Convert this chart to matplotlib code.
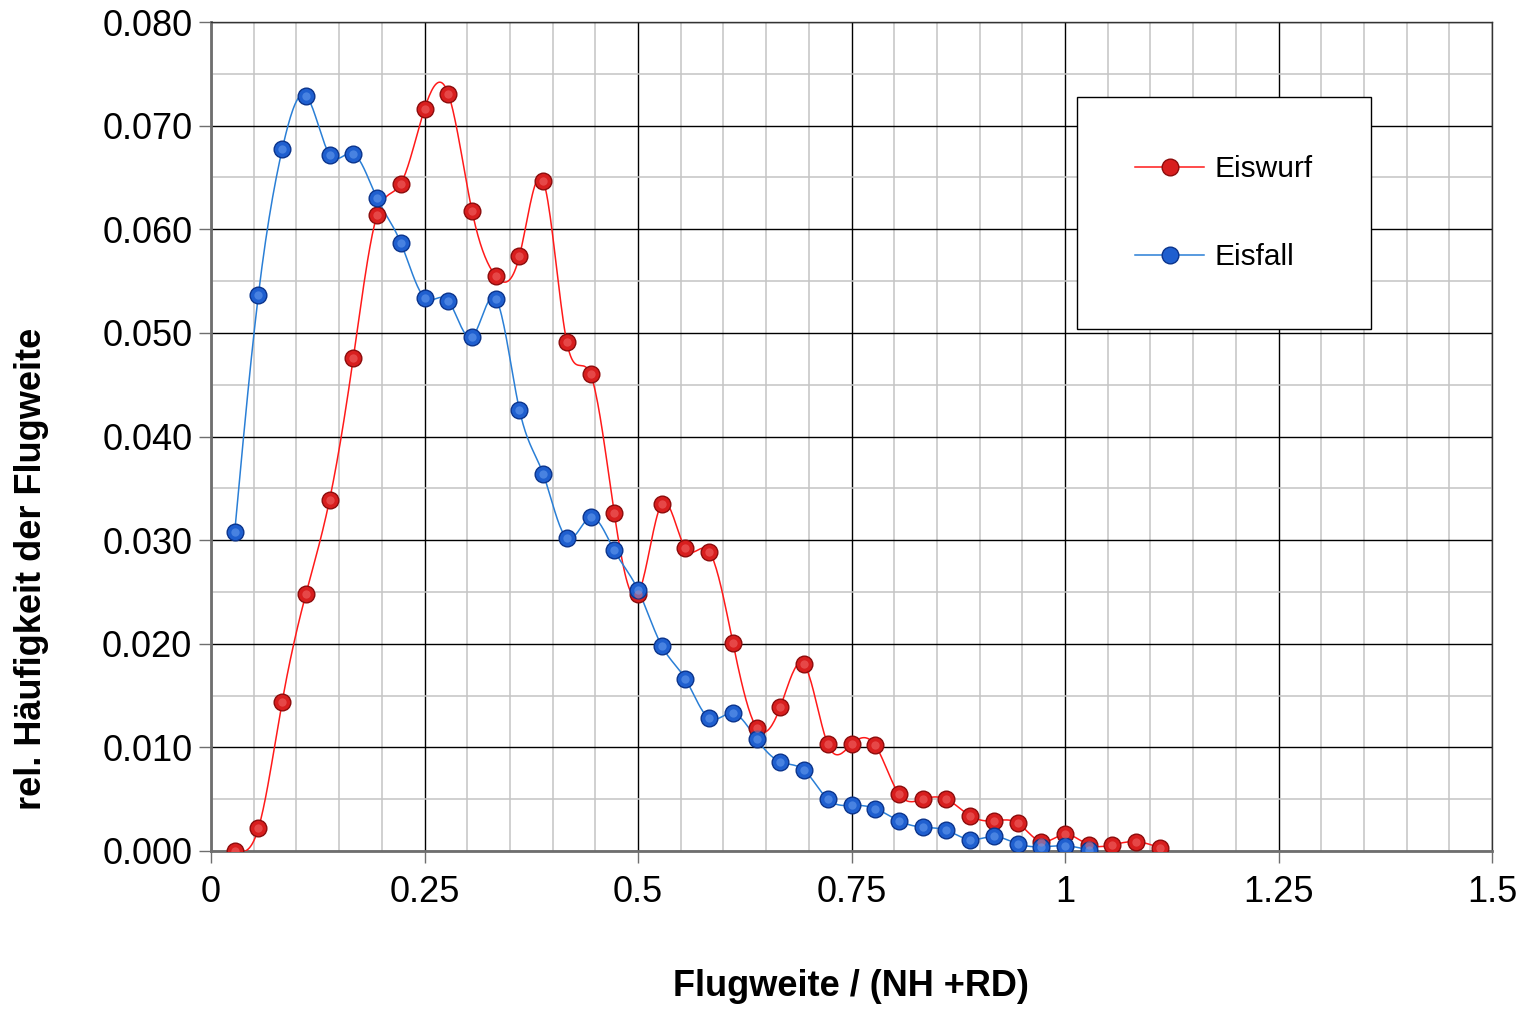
import numpy as np
import matplotlib
matplotlib.use("Agg")
import matplotlib.pyplot as plt
from matplotlib.ticker import MultipleLocator, FormatStrFormatter, FuncFormatter

plt.rcParams['font.family'] = ['Liberation Sans', 'DejaVu Sans']

# x positions: bins of 1/36
eiswurf_x = np.arange(1, 41) / 36.0
eiswurf_y = [0.0000, 0.0022, 0.0144, 0.0248, 0.0339, 0.0476, 0.0614, 0.0644,
             0.0716, 0.0731, 0.0618, 0.0555, 0.0574, 0.0647, 0.0491, 0.0460,
             0.0326, 0.0248, 0.0335, 0.0292, 0.0289, 0.0201, 0.0119, 0.0139,
             0.0180, 0.0103, 0.0103, 0.0102, 0.0055, 0.0050, 0.0050, 0.0034,
             0.0029, 0.0027, 0.0009, 0.0016, 0.0006, 0.0006, 0.0009, 0.0003]

eisfall_x = np.arange(1, 38) / 36.0
eisfall_y = [0.0308, 0.0537, 0.0677, 0.0729, 0.0672, 0.0673, 0.0630, 0.0587,
             0.0534, 0.0531, 0.0496, 0.0533, 0.0426, 0.0364, 0.0302, 0.0322,
             0.0290, 0.0252, 0.0198, 0.0166, 0.0128, 0.0133, 0.0108, 0.0086,
             0.0078, 0.0050, 0.0044, 0.0041, 0.0029, 0.0023, 0.0020, 0.0011,
             0.0014, 0.0007, 0.0004, 0.0005, 0.0001]

labels = ["Eiswurf", "Eisfall"]


def natural_spline(x, y, per_seg=20):
    # natural cubic spline through the points, only for drawing the curve
    x = np.asarray(x, float)
    y = np.asarray(y, float)
    n = len(x)
    h = np.diff(x)
    A = np.zeros((n, n))
    b = np.zeros(n)
    A[0, 0] = 1
    A[-1, -1] = 1
    for i in range(1, n - 1):
        A[i, i - 1] = h[i - 1]
        A[i, i] = 2 * (h[i - 1] + h[i])
        A[i, i + 1] = h[i]
        b[i] = 6 * ((y[i + 1] - y[i]) / h[i] - (y[i] - y[i - 1]) / h[i - 1])
    M = np.linalg.solve(A, b)
    xs, ys = [], []
    for i in range(n - 1):
        t = np.linspace(x[i], x[i + 1], per_seg, endpoint=(i == n - 2))
        a = x[i + 1] - t
        c = t - x[i]
        s = (M[i] * a ** 3 + M[i + 1] * c ** 3) / (6 * h[i]) \
            + (y[i] / h[i] - M[i] * h[i] / 6) * a \
            + (y[i + 1] / h[i] - M[i + 1] * h[i] / 6) * c
        xs.append(t)
        ys.append(s)
    return np.concatenate(xs), np.concatenate(ys)


fig = plt.figure(figsize=(15.26, 10.09), dpi=100)
ax = fig.add_axes([211 / 1526, 1 - 851 / 1009, (1492 - 211) / 1526, (851 - 22) / 1009])

series = [
    (eiswurf_x, eiswurf_y, "#ff1a1a", "#d81e1e", "#8c0c0c", "#f26a6a"),
    (eisfall_x, eisfall_y, "#2a7fd6", "#1f5fcf", "#0b348c", "#6a9ff0"),
]

for (x, y, lc, fc, ec, hc), lab in zip(series, labels):
    sx, sy = natural_spline(x, y)
    ax.plot(sx, sy, color=lc, lw=1.1, zorder=3)
    ax.plot(x, y, ls='none', marker='o', ms=12, mfc=fc, mec=ec, mew=1.0, zorder=4)
    ax.plot(x, y, ls='none', marker='o', ms=6, mfc=hc, mec='none', alpha=0.55, zorder=5)
    # legend proxy
    ax.plot([], [], color=lc, lw=1.1, marker='o', ms=12, mfc=fc, mec=ec, mew=1.0, label=lab)

ax.set_xlim(0, 1.5)
ax.set_ylim(0, 0.08)
ax.xaxis.set_major_locator(MultipleLocator(0.25))
ax.xaxis.set_minor_locator(MultipleLocator(0.05))
ax.yaxis.set_major_locator(MultipleLocator(0.01))
ax.yaxis.set_minor_locator(MultipleLocator(0.005))
ax.yaxis.set_major_formatter(FormatStrFormatter('%.3f'))
ax.xaxis.set_major_formatter(FuncFormatter(lambda v, p: ('%g' % v)))

ax.grid(which='major', color='black', lw=1.0, zorder=1)
ax.grid(which='minor', color='#c4c4c4', lw=1.1, zorder=0)
ax.set_axisbelow(True)

for side in ['left', 'bottom']:
    ax.spines[side].set_color('#6e6e6e')
    ax.spines[side].set_linewidth(2.0)
for side in ['top', 'right']:
    ax.spines[side].set_color('#333333')
    ax.spines[side].set_linewidth(1.0)

ax.tick_params(which='major', direction='out', length=8.5, width=1.0, color='#6e6e6e',
               labelsize=26, pad=5)
ax.tick_params(axis='x', which='major', pad=9)
ax.tick_params(which='minor', length=0)

fig.text(851 / 1526, 1 - 987 / 1009, "Flugweite / (NH +RD)", fontsize=26, fontweight='bold',
         ha='center', va='center')
fig.text(32 / 1526, 1 - 569 / 1009, "rel. Häufigkeit der Flugweite", fontsize=26,
         fontweight='bold', rotation=90, ha='center', va='center')

leg = ax.legend(loc='upper left', bbox_to_anchor=(0.676, 0.9095), fontsize=21.5,
                frameon=True, fancybox=False, borderpad=1.95, labelspacing=2.0,
                handlelength=2.3, handletextpad=0.35, borderaxespad=0)
leg.get_frame().set_edgecolor('black')
leg.get_frame().set_linewidth(1.0)
leg.get_frame().set_alpha(1)

fig.savefig("out.png", dpi=100)
